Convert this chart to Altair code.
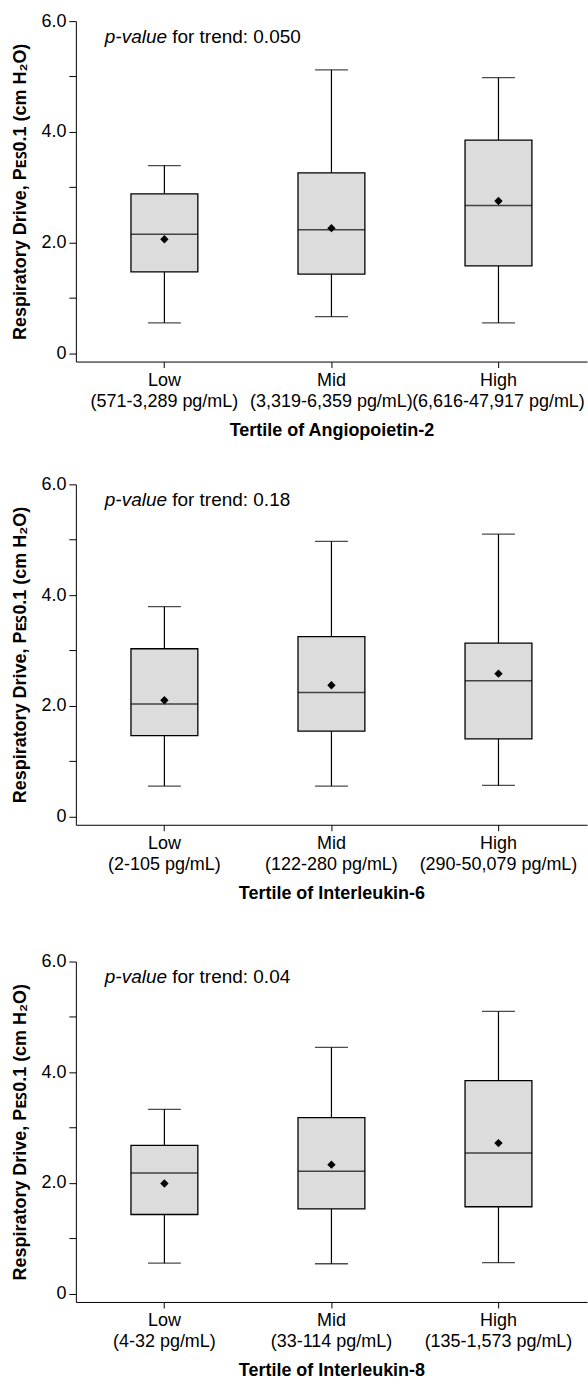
import altair as alt
import pandas as pd

tertiles = ["Low", "Mid", "High"]

# Panel 1: Angiopoietin-2
ang_ranges = ["(571-3,289 pg/mL)", "(3,319-6,359 pg/mL)", "(6,616-47,917 pg/mL)"]
ang_wlo = [0.55, 0.66, 0.55]
ang_q1 = [1.47, 1.43, 1.58]
ang_med = [2.15, 2.23, 2.67]
ang_q3 = [2.88, 3.26, 3.85]
ang_whi = [3.39, 5.12, 4.98]
ang_mean = [2.06, 2.26, 2.75]
ang_p = "0.050"

# Panel 2: Interleukin-6
il6_ranges = ["(2-105 pg/mL)", "(122-280 pg/mL)", "(290-50,079 pg/mL)"]
il6_wlo = [0.55, 0.55, 0.56]
il6_q1 = [1.46, 1.54, 1.40]
il6_med = [2.03, 2.24, 2.45]
il6_q3 = [3.03, 3.25, 3.13]
il6_whi = [3.79, 4.97, 5.10]
il6_mean = [2.10, 2.37, 2.58]
il6_p = "0.18"

# Panel 3: Interleukin-8
il8_ranges = ["(4-32 pg/mL)", "(33-114 pg/mL)", "(135-1,573 pg/mL)"]
il8_wlo = [0.55, 0.54, 0.56]
il8_q1 = [1.43, 1.53, 1.57]
il8_med = [2.18, 2.21, 2.54]
il8_q3 = [2.68, 3.18, 3.85]
il8_whi = [3.33, 4.45, 5.10]
il8_mean = [1.99, 2.33, 2.72]
il8_p = "0.04"

y_ticks = [0, 1, 2, 3, 4, 5, 6]
Y_TITLE = "Respiratory Drive, Pᴇꜱ0.1 (cm H₂O)"

FONT = "Liberation Sans"


def panel(ranges, wlo, q1, med, q3, whi, mean, pval, xtitle):
    labels = [f"{t}|{r}" for t, r in zip(tertiles, ranges)]
    df = pd.DataFrame({"cat": labels, "wlo": wlo, "q1": q1, "med": med,
                       "q3": q3, "whi": whi, "mean": mean})

    x = alt.X("cat:N", sort=labels, title=xtitle,
              scale=alt.Scale(paddingOuter=0.03, paddingInner=0),
              axis=alt.Axis(labelExpr="split(datum.label, '|')", labelAngle=0,
                            labelFontSize=18, labelLineHeight=21, labelPadding=4,
                            tickSize=6, tickColor="black", domainColor="black",
                            labelColor="black", titleColor="black",
                            titleFontSize=18, titleFontWeight="bold",
                            titlePadding=11, grid=False))

    def Y(field):
        return alt.Y(f"{field}:Q", title=Y_TITLE,
                     scale=alt.Scale(domain=[-0.15, 6], nice=False, zero=False),
                     axis=alt.Axis(values=y_ticks,
                                   labelExpr="datum.value % 2 == 0 ? (datum.value == 0 ? '0' : format(datum.value, '.1f')) : ''",
                                   labelFontSize=18, labelPadding=3, tickSize=7,
                                   tickColor="black", domainColor="black",
                                   labelColor="black", titleColor="black",
                                   titleFontSize=18, titleFontWeight="bold",
                                   titlePadding=11, grid=False))

    base = alt.Chart(df)
    lower = base.mark_rule(color="black", strokeWidth=1.2).encode(x=x, y=Y("wlo"), y2="q1")
    upper = base.mark_rule(color="black", strokeWidth=1.2).encode(x=x, y=Y("q3"), y2="whi")
    box = base.mark_bar(size=67, fill="#dcdcdc", stroke="black", strokeWidth=1.3).encode(
        x=x, y=Y("q1"), y2="q3")
    median = base.mark_tick(size=67, thickness=1.5, color="black").encode(x=x, y=Y("med"))
    cap_lo = base.mark_tick(size=33, thickness=1.3, color="black").encode(x=x, y=Y("wlo"))
    cap_hi = base.mark_tick(size=33, thickness=1.3, color="black").encode(x=x, y=Y("whi"))
    pts = base.mark_point(shape="diamond", filled=True, size=70, color="black", opacity=1).encode(
        x=x, y=Y("mean"))

    tdf = pd.DataFrame({"a": ["p-value"], "b": [f"for trend: {pval}"]})
    t1 = alt.Chart(tdf).mark_text(align="left", baseline="middle", fontSize=19,
                                  fontStyle="italic", color="black").encode(
        x=alt.value(29), y=alt.value(15.5), text="a:N")
    t2 = alt.Chart(tdf).mark_text(align="left", baseline="middle", fontSize=19,
                                  color="black").encode(
        x=alt.value(96.5), y=alt.value(15.5), text="b:N")

    return alt.layer(lower, upper, box, median, cap_lo, cap_hi, pts, t1, t2).properties(
        width=512, height=341)


p1 = panel(ang_ranges, ang_wlo, ang_q1, ang_med, ang_q3, ang_whi, ang_mean, ang_p,
           "Tertile of Angiopoietin-2")
p2 = panel(il6_ranges, il6_wlo, il6_q1, il6_med, il6_q3, il6_whi, il6_mean, il6_p,
           "Tertile of Interleukin-6")
p3 = panel(il8_ranges, il8_wlo, il8_q1, il8_med, il8_q3, il8_whi, il8_mean, il8_p,
           "Tertile of Interleukin-8")

inner = alt.vconcat(p1, p2, spacing=34)
chart = alt.vconcat(inner, p3, spacing=48).properties(
    padding={"left": 11, "top": 10, "right": 0, "bottom": 0}
).configure(font=FONT).configure_view(stroke="transparent")

chart.save("out.html", embed_options={"renderer": "svg", "actions": False})
